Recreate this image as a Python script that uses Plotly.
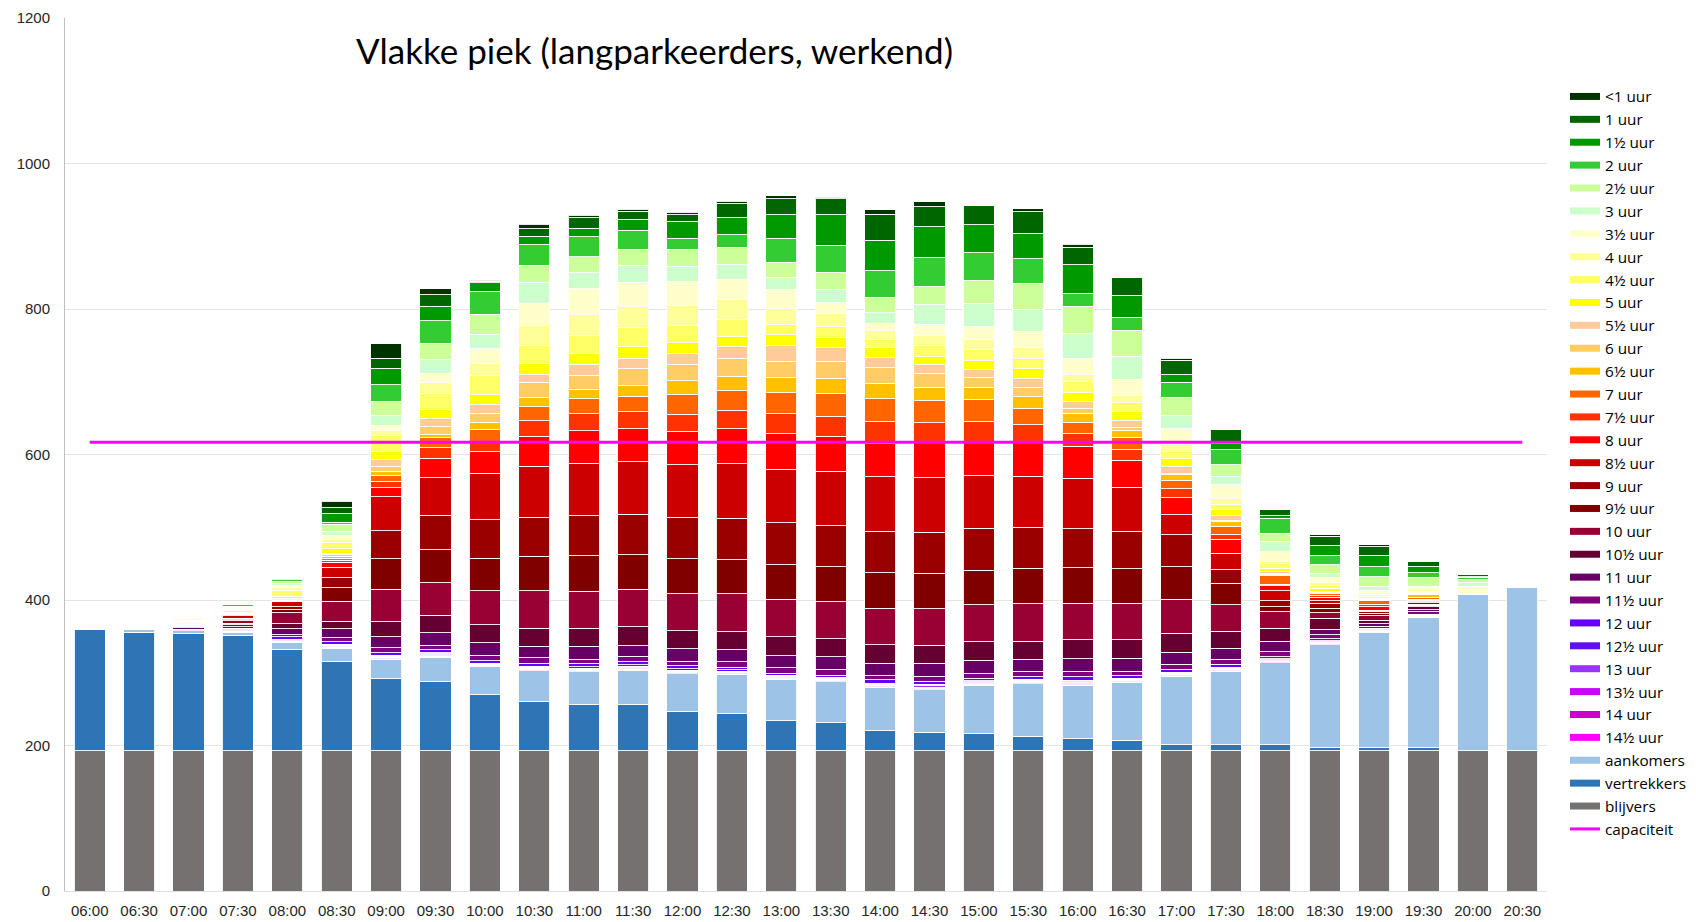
import plotly.graph_objects as go

times = ["06:00","06:30","07:00","07:30","08:00","08:30","09:00","09:30","10:00","10:30",
         "11:00","11:30","12:00","12:30","13:00","13:30","14:00","14:30","15:00","15:30",
         "16:00","16:30","17:00","17:30","18:00","18:30","19:00","19:30","20:00","20:30"]

blijvers = [193]*30
vertrekkers = [166,163,161,158,139,122,99,95,77,67,64,64,54,51,41,38,27,25,23,20,16,14,8,8,8,4,4,4,0,0]
aankomers = [0,3,4,5,10,19,26.5,33.5,38,43,44.6,46.7,51.8,53.8,56.4,56.8,59.9,58.9,67,72.1,73.6,79.7,94,100.9,112.8,141.8,158.3,178.9,215,224]

u14h = [0,0,0,0.5,0,1,1,1,1,1,1,1,1,1,1,1,1,1,1,1,1,1,1,1,1,1,0.5,0.5,0,0]
u14 = [0,0,0,0.5,0,1,1,1,1,1,1,1,1,1,1,1,1,1,1,1,1,1,1,1,1,1,0.5,0.5,0,0]
u13h = [0,0,0,0.5,1,1,1,1,1,1,1,1.5,1,1,1,1,1,1.5,1,1,1.5,1,1,1,1,1,1,0.5,0,0]
u13 = [0,0,0,0.5,1,1,1,1.5,1,1.5,1.5,1.5,1.5,1.5,1.5,1.5,1.5,1.5,1.5,1.5,1.5,1.5,1.5,1.5,1,1,1,0.7,0,0]
u12h = [0,0,0,1,1.5,1,1.5,1.5,1,1.5,2,2,2,1.5,1.5,1.5,1.5,2,1.5,1.5,2,1.5,1.5,1.5,1.3,1,1,0.9,0,0]
u12 = [0,0,1,2.5,4,3.3,3.5,4,3.5,4,4.7,4.6,4.1,3.6,3.1,3.1,4.2,4.6,3.2,3.1,5.2,3.1,4.1,4.1,3,2.8,2,1.5,0,0]
u11h = [0,0,1,1.5,2.5,6,7,6.5,7.5,7.5,6.1,7.1,6.6,7.6,7.1,7.6,6,6.6,6.6,8.1,7.6,6.6,6.5,6.9,6.9,5.5,2.7,3.3,0,0]
u11 = [0,0,2,3,8.5,12.4,15,17,17,16,17.2,14.7,16.8,16.3,16.8,17.3,17.3,17.8,18.3,16.3,16.8,17.8,16.4,15.1,14.2,7.7,3.7,3,0,0]
u10h = [0,0,1,2,7,10,20.5,24,25,25,25.4,26,24.9,25.4,25.8,24.9,25.4,24.9,25.3,24.8,25.9,25.4,26.2,22.9,17.9,14.8,4.6,3.8,0,0]
u10 = [0,0.5,1,3.5,15,27.6,44.5,45,47,51.5,50.8,51.7,50.7,51.7,51.8,50.8,50.2,50.2,50.8,51.3,50.7,49.7,46.8,36.3,22.9,7.8,6.4,2.3,0,0]
u9h = [0,0,0,1.5,4.5,18.4,42.5,45,44.5,47,48.2,47.2,48.3,47.2,47.2,48.2,48.8,48.8,47.7,48.7,48.8,47.7,44.9,29.8,6.9,6.4,2.8,1.5,0,0]
u9 = [0,0,1,2,4,13.7,38,47.5,52.5,54,55.3,55.9,57.3,56.9,57.9,56.3,56.8,56.3,57.9,56.9,53.3,51.3,43.6,18.3,8.2,6.9,2.7,1.7,0,0]
u8h = [0,0,1,3.5,7,14.7,47,51.5,64,70,72.1,72,71.6,75.1,73.6,75.1,74.6,75.1,72.1,69.5,69.5,60.4,27.5,23,13.8,3.6,1.8,1.7,0,0]
u8 = [0,0,0.5,1,1.5,6.6,12.5,27,30,41,44.7,45.7,46.7,47.7,48.7,48.3,46.2,47.7,45.7,46.2,43.7,37.1,23.4,19.3,6.4,4.5,4.6,2,0,0]
u7h = [0,0,0,0.5,1,3,9,14,14,21.5,23.3,22.9,23.3,25.4,27.9,27.4,30.5,28,29.4,24.9,17.2,15.2,12.4,6.8,2.3,2.5,3.7,1.5,0,0]
u7 = [0,0,0.5,0.5,1,3,7.5,14,16,19,20.8,21.3,27.4,27.4,28.5,30.9,30.4,30.9,29.4,22.9,16.3,16.8,11.5,10.6,11.9,2.7,4.6,2.2,0,0]
u6h = [0,0,0,0.5,0.5,2.5,6,4,10,13,13.2,14.7,18.3,19.8,20.8,20.9,20.9,17.8,17.3,15.7,12.1,8.6,8.7,7.3,2.1,1.5,1,4.1,0,0]
u6 = [0,0,0.5,0.5,0.5,2,6.5,12,12.5,20.5,18.3,23.4,21.9,23.4,22.8,23.3,22.3,18.3,12.7,13.2,6.1,5,1.4,1.3,1,1,0.7,1.5,0,0]
u5h = [0,0,0,0.5,0,1.5,9,10,12.5,11,15.8,13.7,15.2,16.7,21.3,19.3,13.7,12.7,11.2,11.7,9.7,9.7,9.2,6.5,2,0.5,0.5,1.2,0,0]
u5 = [0,1,1,1,3,6.6,11,13,13.5,15,14.7,16.7,16.2,13.7,15.3,13.7,13.7,11.1,13.2,13.2,12.7,11.7,10.5,7.8,5,4.5,1,0.8,0,0]
u4h = [0,1.5,2.5,3,8,8.8,22,22.5,26.5,25.5,24.9,26.4,23.4,23.9,14.2,15.2,11.7,14.7,14.7,14.7,15.2,12.7,10.1,7.4,7,3.5,2.3,1.1,0,0]
u4 = [0,1,1.5,1.5,4,4.1,7,14.5,15.5,27.5,28.9,28.4,26.8,26.9,21.3,17.3,11.2,14.3,13.2,14.2,9.6,10.1,10.1,7.7,2,3.5,3.2,2,1,0]
u3h = [0,0,1.5,1.5,3,5.5,8,12.5,21,30,35,34,33,28.4,25.9,15.2,10.1,15.2,18.2,22.8,21.9,21.8,21.1,19.3,14,7.5,6,2.6,10,0]
u3 = [0,0,1,1,2,6,13,19,20,28,22.9,22.9,20.4,20.9,16.7,18.3,15.2,27.9,32,30.5,34,31.5,17.9,11,13.7,6,5.5,2.3,5,0]
u2h = [0,0,1,1.5,3,9.6,19,22.5,27.5,24,21.3,21.8,23.8,22.8,21.4,23.3,21.4,24.4,31.9,35.5,38.1,36.1,25.2,16.5,11.5,11.6,12.8,11.9,3.6,0]
u2 = [0,0,1.5,2,2.5,2.4,23.5,31,31,28,27.4,26.4,15.3,17.2,33,37.6,36,39.1,37.7,34,17.2,17.7,21.1,20.7,20.6,12.9,13.8,6.4,3.7,0]
u1h = [0,0,0,0.5,1,12,22.5,20,12,12,11.7,15.3,23.3,23.4,31.9,42.1,42.1,42.6,38.5,34.6,39.6,30,10.1,8.7,3.7,13.7,16,8.3,1,0]
u1 = [0,0,0,0,0,8,13.5,15.5,2,10,14.7,10.6,9.2,19.3,21.9,21.4,35.6,27.4,26.4,29.9,24.4,24.9,20.2,19.7,8.7,12.4,11.5,7.8,2.5,0]
u0 = [0,0,0,0,0,8.8,20.5,8.5,1.5,6.5,3.6,3,3.5,3.5,4.5,2.5,6,7.1,0,4.1,4,0,2.7,0,0,1.9,2.7,0,0,0]

capaciteit = [617]*30

# stacking order bottom -> top
series = [
    ("blijvers", blijvers, "#767171"),
    ("vertrekkers", vertrekkers, "#2E75B6"),
    ("aankomers", aankomers, "#9DC3E6"),
    ("14½ uur", u14h, "#FF00FF"),
    ("14 uur", u14, "#CC00CC"),
    ("13½ uur", u13h, "#CC00FF"),
    ("13 uur", u13, "#9933FF"),
    ("12½ uur", u12h, "#6010F0"),
    ("12 uur", u12, "#6600FF"),
    ("11½ uur", u11h, "#800080"),
    ("11 uur", u11, "#660066"),
    ("10½ uur", u10h, "#660033"),
    ("10 uur", u10, "#990033"),
    ("9½ uur", u9h, "#800000"),
    ("9 uur", u9, "#990000"),
    ("8½ uur", u8h, "#CC0000"),
    ("8 uur", u8, "#FF0000"),
    ("7½ uur", u7h, "#FF3300"),
    ("7 uur", u7, "#FF6600"),
    ("6½ uur", u6h, "#FFC000"),
    ("6 uur", u6, "#FFCC66"),
    ("5½ uur", u5h, "#FFCC99"),
    ("5 uur", u5, "#FFFF00"),
    ("4½ uur", u4h, "#FFFF66"),
    ("4 uur", u4, "#FFFF99"),
    ("3½ uur", u3h, "#FFFFCC"),
    ("3 uur", u3, "#CCFFCC"),
    ("2½ uur", u2h, "#CCFF99"),
    ("2 uur", u2, "#33CC33"),
    ("1½ uur", u1h, "#009900"),
    ("1 uur", u1, "#006600"),
    ("<1 uur", u0, "#003300"),
]

# page body has an 8px margin, so the figure is sized/offset to compensate
W, H = 1688, 914
L, T, R, B = 57, 10, 149, 31
plot_w = W - L - R
plot_h = H - T - B

fig = go.Figure()
n = len(series)
for i, (name, vals, col) in enumerate(series):
    fig.add_trace(go.Bar(
        x=times, y=vals, name=name, showlegend=False,
        marker=dict(color=col, line=dict(color="rgba(255,255,255,0.9)", width=1)),
    ))
    # legend proxy with a wide, flat swatch like the original
    fig.add_trace(go.Scatter(
        x=[None], y=[None], mode="lines", name=name,
        line=dict(color=col, width=7),
        legendrank=n - i, showlegend=True, hoverinfo="skip",
    ))

fig.add_trace(go.Scatter(
    x=times, y=capaciteit, mode="lines", name="capaciteit",
    line=dict(color="#FF00FF", width=3), legendrank=n + 1,
))

fig.update_layout(
    width=W, height=H,
    barmode="stack", bargap=0.37,
    plot_bgcolor="white", paper_bgcolor="white",
    margin=dict(l=L, r=R, t=T, b=B, autoexpand=False),
    font=dict(family="Liberation Sans, Arial, sans-serif", size=14, color="#262626"),
    legend=dict(
        x=1557/W, xref="container", xanchor="left",
        y=1 - 72/H, yref="container", yanchor="top",
        maxheight=H,
        font=dict(family="Open Sans, Liberation Sans, sans-serif", size=15.3, color="#000000"),
        itemwidth=30, traceorder="normal",
        bgcolor="rgba(0,0,0,0)", borderwidth=0,
    ),
    annotations=[dict(
        text="Vlakke piek (langparkeerders, werkend)",
        x=(646-L)/plot_w, y=(H-B-42)/plot_h, xref="paper", yref="paper",
        xanchor="center", yanchor="middle", showarrow=False,
        font=dict(family="Lato, Liberation Sans, sans-serif", size=35, color="#000000"),
    )],
)
fig.update_yaxes(
    range=[0, 1200], dtick=200, showgrid=True, gridcolor="#E4E4E4", gridwidth=1,
    showline=True, linecolor="#BFBFBF", linewidth=1, zeroline=False,
    ticks="", ticklabelstandoff=11, tickfont=dict(size=15), automargin=False,
)
fig.update_xaxes(
    type="category", showline=True, linecolor="#E0E0E0", linewidth=1,
    ticks="", ticklabelstandoff=6, tickfont=dict(size=15), automargin=False,
)

fig.write_html("out.html")
